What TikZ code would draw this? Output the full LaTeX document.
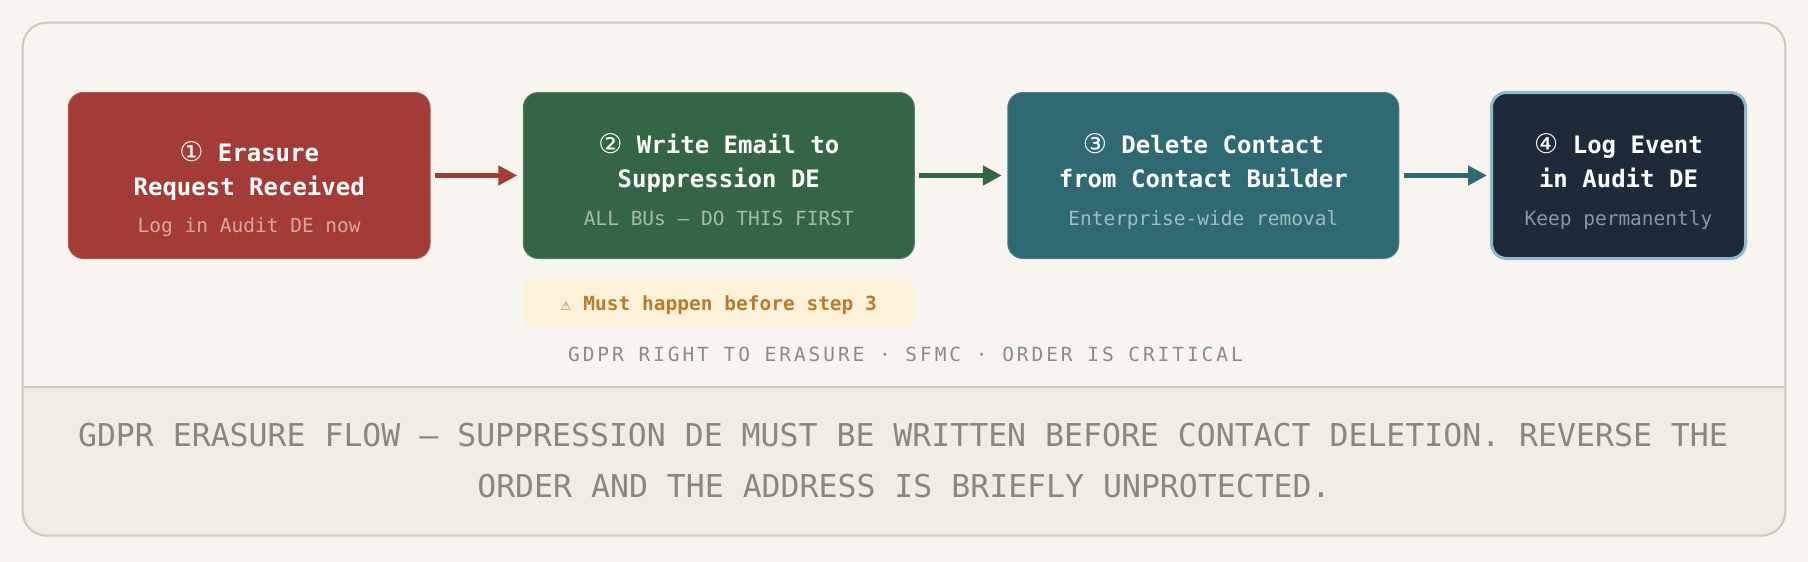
\documentclass[tikz,border=0pt]{standalone}
\usepackage{fontspec}
\usetikzlibrary{arrows.meta}
\newfontfamily\monof{DejaVu Sans Mono}
\newfontfamily\symf{DejaVu Sans}
\newfontfamily\capf[LetterSpace=15]{DejaVu Sans Mono}
\definecolor{bgc}{HTML}{F8F5F0}
\definecolor{botc}{HTML}{F0EDE6}
\definecolor{framec}{HTML}{CFC8BD}
\definecolor{redc}{HTML}{A33B37}
\definecolor{greenc}{HTML}{346645}
\definecolor{tealc}{HTML}{2F6A74}
\definecolor{navyc}{HTML}{1E2A3A}
\definecolor{navyb}{HTML}{8FB8CC}
\definecolor{warnfill}{HTML}{FCF2DA}
\definecolor{warntext}{HTML}{BC7A2C}
\definecolor{capc}{HTML}{8E8A85}
\definecolor{botText}{HTML}{8A8782}
\newcommand{\circnum}[1]{{\symf\mdseries\fontsize{27}{28}\selectfont #1}}
\begin{document}
\begin{tikzpicture}[x=1pt,y=-1pt,
  box/.style={rectangle, inner sep=0pt, outer sep=0pt, rounded corners=15pt, minimum height=166pt},
  ttl/.style={anchor=base, inner sep=0pt, text=white, font=\monof\bfseries\fontsize{24}{28}\selectfont},
  sub/.style={anchor=base, inner sep=0pt, font=\monof\fontsize{19.5}{23}\selectfont},
  arr/.style={line width=5pt, -{Triangle[length=19pt,width=19pt]}, shorten <=5pt, shorten >=6pt}]
\useasboundingbox (0,0) rectangle (1808,562);
\fill[bgc] (0,0) rectangle (1808,562);
% outer frame
\begin{scope}
  \clip[rounded corners=24pt] (22.7,22.7) rectangle (1785.3,535.7);
  \fill[botc] (0,386.7) rectangle (1808,562);
\end{scope}
\draw[framec, line width=2pt] (22.7,386.7) -- (1785.3,386.7);
\draw[framec, line width=2pt, rounded corners=24pt] (22.7,22.7) rectangle (1785.3,535.7);

% boxes
\node[box, fill=redc, draw=redc!85!white, line width=1pt, minimum width=361.7pt] (b1) at (249.2,175.5) {};
\node[box, fill=greenc, draw=greenc!85!white, line width=1pt, minimum width=391pt] (b2) at (718.8,175.5) {};
\node[box, fill=tealc, draw=tealc!85!white, line width=1pt, minimum width=391pt] (b3) at (1203.3,175.5) {};
\node[box, fill=navyc, draw=navyb, line width=3pt, minimum width=254pt, minimum height=166pt, rounded corners=15pt] (b4) at (1618.5,175.5) {};

% box texts
\node[ttl] (b1t1) at (249.2,161) {\circnum{①}\ Erasure};
\node[ttl] (b1t2) at (249.2,195) {Request Received};
\node[sub, text=white!55!redc] (b1s) at (249.2,232) {Log in Audit DE now};

\node[ttl] (b2t1) at (718.8,153.3) {\circnum{②}\ Write Email to};
\node[ttl] (b2t2) at (718.8,187.3) {Suppression DE};
\node[sub, text=white!55!greenc] (b2s) at (718.8,225) {ALL BUs — DO THIS FIRST};

\node[ttl] (b3t1) at (1203.3,153.3) {\circnum{③}\ Delete Contact};
\node[ttl] (b3t2) at (1203.3,187.3) {from Contact Builder};
\node[sub, text=white!55!tealc] (b3s) at (1203.3,225) {Enterprise-wide removal};

\node[ttl] (b4t1) at (1618.5,153.3) {\circnum{④}\ Log Event};
\node[ttl] (b4t2) at (1618.5,187.3) {in Audit DE};
\node[sub, text=white!50!navyc] (b4s) at (1618.5,225) {Keep permanently};

% arrows
\draw[arr, redc] (b1.east) -- (b2.west);
\draw[arr, greenc] (b2.east) -- (b3.west);
\draw[arr, tealc, shorten >=4.5pt] (b3.east) -- (b4.west);

% warning
\node[rectangle, fill=warnfill, rounded corners=8pt, inner sep=0pt, minimum width=391pt, minimum height=47.7pt] (warn) at (718.8,302.9) {};
\node[anchor=base, inner sep=0pt, text=warntext, font=\monof\bfseries\fontsize{19.5}{23}\selectfont] (warnt) at (718.5,310.7)
  {\makebox[11.7pt]{\symf\mdseries\fontsize{12}{12}\selectfont ⚠}\ Must happen before step 3};

% caption
\node[anchor=base, inner sep=0pt, text=capc, font=\capf\fontsize{19.5}{23}\selectfont] (cap) at (905.5,361.7)
  {GDPR RIGHT TO ERASURE · SFMC · ORDER IS CRITICAL};

% bottom text
\node[anchor=base, inner sep=0pt, text=botText, font=\monof\fontsize{31.5}{36}\selectfont] (bot1) at (903,446.5)
  {GDPR ERASURE FLOW — SUPPRESSION DE MUST BE WRITTEN BEFORE CONTACT DELETION. REVERSE THE};
\node[anchor=base, inner sep=0pt, text=botText, font=\monof\fontsize{31.5}{36}\selectfont] (bot2) at (904,497.7)
  {ORDER AND THE ADDRESS IS BRIEFLY UNPROTECTED.};
\end{tikzpicture}
\end{document}
